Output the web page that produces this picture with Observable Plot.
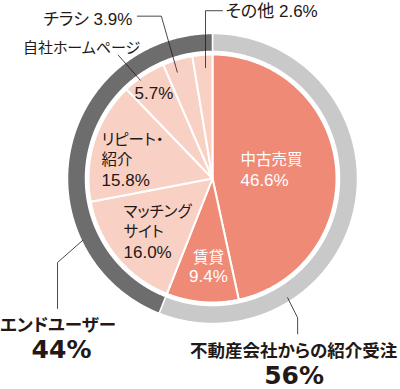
<!DOCTYPE html>
<html><head><meta charset="utf-8">
<script src="https://cdn.jsdelivr.net/npm/d3@7"></script>
<script src="https://cdn.jsdelivr.net/npm/@observablehq/plot@0.6"></script>
<style>body{margin:0;background:#fff}svg{display:block}</style>
</head><body><div id="chart"></div>
<script>
// ---- data ----
const categories = ["中古売買", "賃貸", "マッチングサイト", "リピート・紹介", "自社ホームページ", "チラシ", "その他"];
const shares = [46.6, 9.4, 16.0, 15.8, 5.7, 3.9, 2.6];
const categoryGroup = [0, 0, 1, 1, 1, 1, 1];
const groups = ["不動産会社からの紹介受注", "エンドユーザー"];
const groupShares = [56, 44];
const insideNames = [["中古売買"], ["賃貸"], ["マッチング", "サイト"], ["リピート・", "紹介"], [], null, null];
const outsideNames = [null, null, null, null, "自社ホームページ", "チラシ", "その他"];

// ---- style / layout ----
const sliceColors = ["#ef8a76", "#f9d0c4"];
const ringColors = ["#c9c9ca", "#6e6d6e"];
const ink = "#231815";
const jp = "'Noto Sans CJK JP', sans-serif";
const latin = "'Liberation Sans', 'Noto Sans CJK JP', sans-serif";
const R_PIE = 124, R_IN = 127, R_OUT = 145;
const LINE = 20;
const insideLayout = [
  {ang: 74.1, r: 29.1, anchor: "start", fill: "#fff"},
  {ang: 182.6, r: 89, anchor: "middle", fill: "#fff", gap: 18},
  {ang: 238.75, r: 104.1, anchor: "start", fill: ink},
  {ang: 279.2, r: 112.4, anchor: "start", fill: ink},
  {ang: 325.3, r: 102.8, anchor: "middle", fill: ink},
  null, null
];
const leaderLayout = {
  4: {ang: 323.7, r: 122, pts: [[-22, -25]], text: [22, -7], anchor: "end", pct: false, size: 15},
  5: {ang: 341.7, r: 112, pts: [[-16, -56], [-40, -56]], text: [-5, 3], anchor: "end", pct: true, size: 17},
  6: {ang: 356.4, r: 111, pts: [[0, -57], [17, -57]], text: [3, 1], anchor: "start", pct: true, size: 17}
};
const groupLeader = [
  {ang: 147.8, r: 141, pts: [[10, 20], [10, 36]], name: [-4, 17.5], pct: [-3.5, 42]},
  {ang: 244.5, r: 144, pts: [[-25, 22], [-25, 68]], name: [0.5, 17], pct: [4, 42]}
];

const polar = (deg, r) => {
  const a = deg * Math.PI / 180;
  return [r * Math.sin(a), r * Math.cos(a)];
};
const arcPts = (a0, a1, r) => {
  const out = [];
  const n = Math.max(2, Math.ceil((a1 - a0) / 0.5));
  for (let k = 0; k <= n; k++) out.push(polar(a0 + (a1 - a0) * k / n, r));
  return out;
};
const fmt = v => v.toFixed(1) + "%";

// slices
const slicePts = [];
let cum = 0;
shares.forEach((v, i) => {
  const a0 = cum / 100 * 360; cum += v; const a1 = cum / 100 * 360;
  [[0, 0], ...arcPts(a0, a1, R_PIE)].forEach(([x, y]) =>
    slicePts.push({x, y, key: categories[i], fill: sliceColors[categoryGroup[i]]}));
});
// ring
const ringPts = [];
let gcum = 0;
groupShares.forEach((v, i) => {
  const a0 = gcum / 100 * 360; gcum += v; const a1 = gcum / 100 * 360;
  [...arcPts(a0, a1, R_OUT), ...arcPts(a0, a1, R_IN).reverse()].forEach(([x, y]) =>
    ringPts.push({x, y, key: groups[i], fill: ringColors[i]}));
});

// inside labels, one datum per line
const inName = [], inPct = [];
insideNames.forEach((names, i) => {
  if (!names) return;
  const L = insideLayout[i];
  const [x, y0] = polar(L.ang, L.r);
  const gap = L.gap || LINE;
  const n = names.length + 1;
  const lineY = k => y0 + ((n - 1) / 2 - k) * gap;
  names.forEach((t, k) => inName.push({x, y: lineY(k), text: t, anchor: L.anchor, fill: L.fill}));
  inPct.push({x, y: lineY(n - 1), text: fmt(shares[i]), anchor: L.anchor, fill: L.fill});
});

// leaders + outside labels
const leaderPts = [];
const outLabels = [];
Object.entries(leaderLayout).forEach(([i, L]) => {
  const [x0, y0] = polar(L.ang, L.r);
  leaderPts.push({x: x0, y: y0, key: categories[i]});
  L.pts.forEach(([dx, dy]) => leaderPts.push({x: x0 + dx, y: y0 - dy, key: categories[i]}));
  const [ex, ey] = L.pts[L.pts.length - 1];
  const text = outsideNames[i] + (L.pct ? " " + fmt(shares[i]) : "");
  outLabels.push({x: x0 + ex + L.text[0], y: y0 - ey - L.text[1], text, anchor: L.anchor, size: L.size, pct: L.pct});
});
const groupNames = [], groupPcts = [];
groupLeader.forEach((L, i) => {
  const [x0, y0] = polar(L.ang, L.r);
  leaderPts.push({x: x0, y: y0, key: groups[i]});
  L.pts.forEach(([dx, dy]) => leaderPts.push({x: x0 + dx, y: y0 - dy, key: groups[i]}));
  const [ex, ey] = L.pts[L.pts.length - 1];
  groupNames.push({x: x0 + ex + L.name[0], y: y0 - ey - L.name[1], text: groups[i]});
  groupPcts.push({x: x0 + ex + L.pct[0], y: y0 - ey - L.pct[1], text: groupShares[i] + "%"});
});

const chart = Plot.plot({
  width: 400, height: 389, margin: 0,
  x: {domain: [-212, 188], axis: null},
  y: {domain: [-211, 178], axis: null},
  color: {type: "identity"},
  style: {fontFamily: jp, background: "#fff", fontFeatureSettings: "'palt'"},
  marks: [
    Plot.line(ringPts, {x: "x", y: "y", z: "key", fill: "fill", stroke: "#fff", strokeWidth: 1.5, curve: "linear-closed"}),
    Plot.line(slicePts, {x: "x", y: "y", z: "key", fill: "fill", stroke: "#fff", strokeWidth: 2, curve: "linear-closed"}),
    Plot.line(leaderPts, {x: "x", y: "y", z: "key", stroke: ink, strokeWidth: 0.8}),
    ...["start", "middle"].map(a => Plot.text(inName.filter(d => d.anchor === a), {x: "x", y: "y", text: "text", fill: "fill", textAnchor: a, fontSize: 15.5, fontFamily: jp})),
    ...["start", "middle"].map(a => Plot.text(inPct.filter(d => d.anchor === a), {x: "x", y: "y", text: "text", fill: "fill", textAnchor: a, fontSize: 17, fontFamily: latin, ariaLabel: "pct"})),
    ...["start", "end"].map(a => Plot.text(outLabels.filter(d => d.anchor === a && d.pct), {x: "x", y: "y", text: "text", fill: ink, textAnchor: a, fontSize: "size", fontFamily: latin, ariaLabel: "outer"})),
    Plot.text(outLabels.filter(d => !d.pct), {x: "x", y: "y", text: "text", fill: ink, textAnchor: "end", fontSize: "size", fontFamily: jp}),
    Plot.text(groupNames, {x: "x", y: "y", text: "text", fill: ink, fontSize: 17.5, fontWeight: "bold", fontFamily: jp}),
    Plot.text(groupPcts, {x: "x", y: "y", text: "text", fill: ink, fontSize: 25, fontWeight: "bold", fontFamily: "'DejaVu Sans', sans-serif", ariaLabel: "bigpct"})
  ]
});
d3.select(chart).selectAll("g[aria-label=pct] text").style("letter-spacing", "1px");
d3.select(chart).selectAll("g[aria-label=outer] text").style("font-feature-settings", "normal");
document.getElementById("chart").append(chart);
</script></body></html>
